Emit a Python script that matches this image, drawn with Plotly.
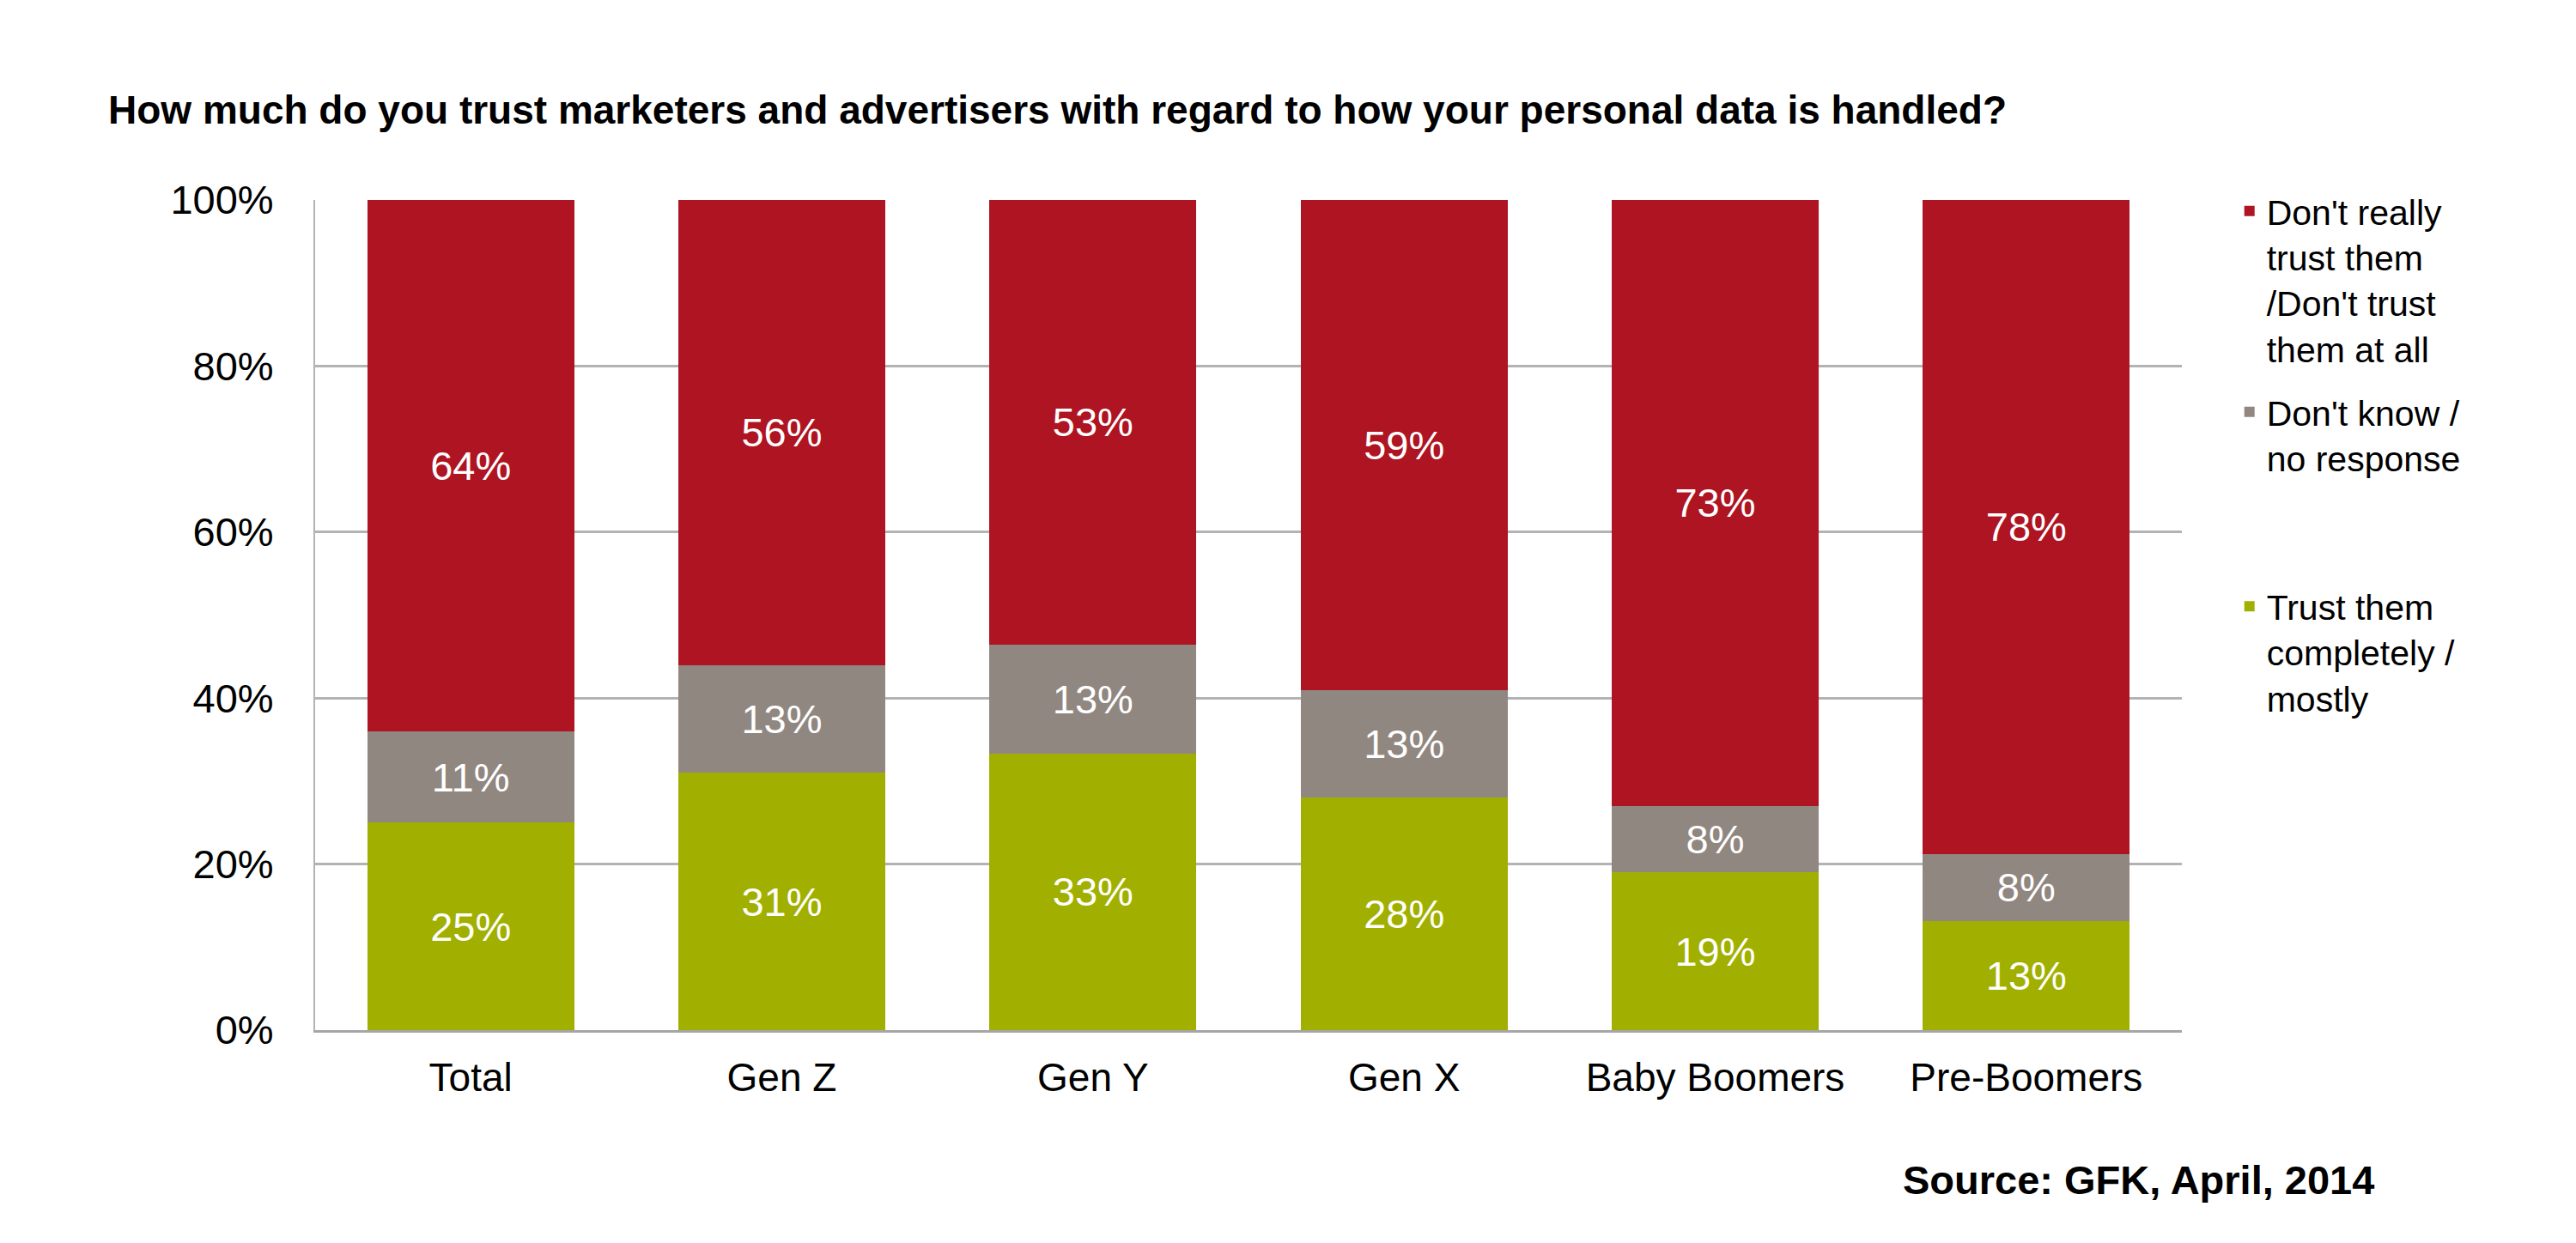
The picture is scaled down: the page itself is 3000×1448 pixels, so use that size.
import plotly.graph_objects as go

categories = ["Total", "Gen Z", "Gen Y", "Gen X", "Baby Boomers", "Pre-Boomers"]
trust = [25, 31, 33, 28, 19, 13]
dont_know = [11, 13, 13, 13, 8, 8]
dont_trust = [64, 56, 53, 59, 73, 78]

series_names = [
    "Trust them<br>completely /<br>mostly",
    "Don't know /<br>no response",
    "Don't really<br>trust them<br>/Don't trust<br>them at all",
]
colors = ["#A1B000", "#918781", "#AE1421"]
legends = ["legend3", "legend2", "legend"]

FONT = "Liberation Sans, Arial, sans-serif"

fig = go.Figure()
for name, vals, col, leg in zip(series_names, [trust, dont_know, dont_trust], colors, legends):
    fig.add_trace(go.Bar(
        x=categories,
        y=vals,
        name=name,
        marker=dict(color=col, line=dict(width=0)),
        text=[f"{v}%" for v in vals],
        textposition="inside",
        insidetextanchor="middle",
        constraintext="none",
        textangle=0,
        textfont=dict(family=FONT, size=47, color="white"),
        legend=leg,
        showlegend=True,
    ))

# one legend per series so each entry can sit where the original has it
leg_common = dict(
    xref="paper", yref="paper", x=1.027, xanchor="left", yanchor="top",
    font=dict(family=FONT, size=41, color="black"),
    bgcolor="rgba(0,0,0,0)", valign="top", borderwidth=0,
    visible=True,
)

fig.update_layout(
    width=3000,
    height=1448,
    showlegend=True,
    barmode="stack",
    barnorm="percent",
    bargap=0.334,
    plot_bgcolor="white",
    paper_bgcolor="white",
    margin=dict(l=359, r=467, t=225, b=256),
    font=dict(family=FONT, color="black"),
    title=dict(
        text="<b>How much do you trust marketers and advertisers with regard to how your personal data is handled?</b>",
        xref="container", yref="container",
        x=118 / 3000, xanchor="left",
        y=1 - 120 / 1448, yanchor="middle",
        font=dict(family=FONT, size=46, color="black"),
    ),
    legend=dict(y=1.021, **leg_common),
    legend2=dict(y=0.779, **leg_common),
    legend3=dict(y=0.545, **leg_common),
    xaxis=dict(
        showline=True, linecolor="#A6A6A6", linewidth=3,
        ticks="", tickfont=dict(family=FONT, size=46, color="black"),
        ticklabelstandoff=13,
    ),
    yaxis=dict(
        range=[0, 100], dtick=20, ticksuffix="%",
        showgrid=True, gridcolor="#B3B3B3", gridwidth=3,
        showline=True, linecolor="#B3B3B3", linewidth=2,
        zeroline=False,
        ticks="", tickfont=dict(family=FONT, size=47, color="black"),
        ticklabelstandoff=37,
    ),
    annotations=[dict(
        text="<b>Source: GFK, April, 2014</b>",
        xref="paper", yref="paper",
        x=1.104, xanchor="right",
        y=-0.180, yanchor="middle",
        showarrow=False,
        font=dict(family=FONT, size=47, color="black"),
    )],
)

fig.write_html("out.html")
